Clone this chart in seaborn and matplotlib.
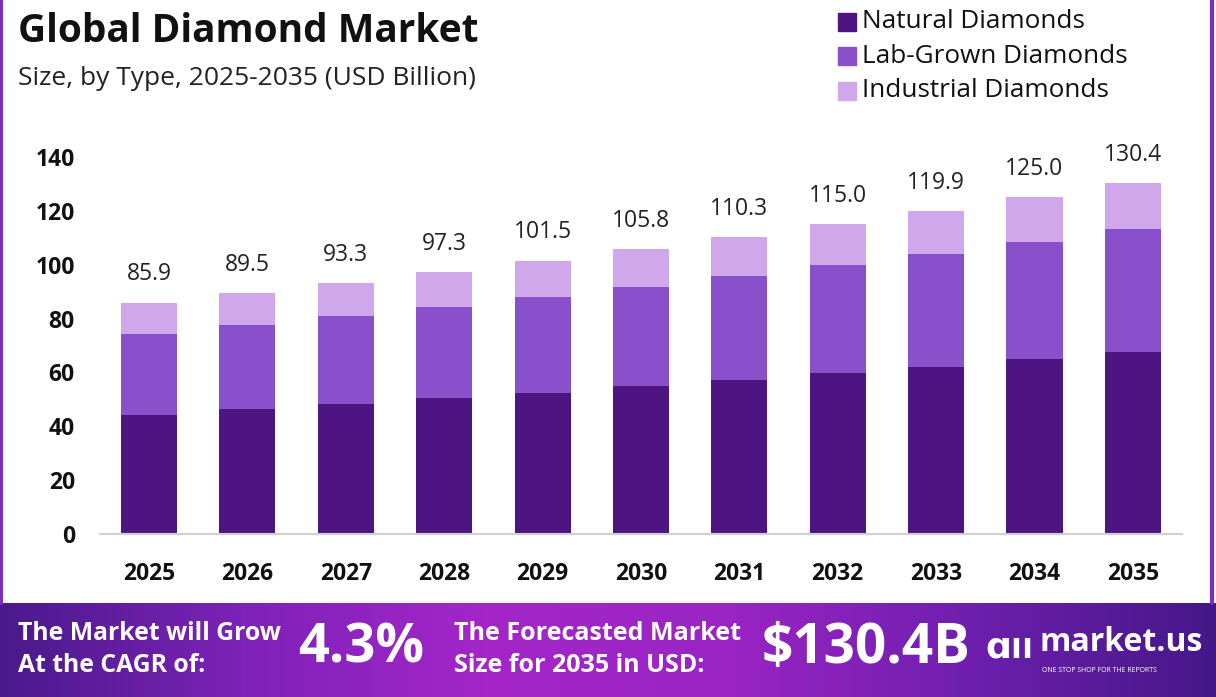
import numpy as np
import pandas as pd
import matplotlib.pyplot as plt
import seaborn as sns
from matplotlib.colors import LinearSegmentedColormap

# datos
years = ["2025", "2026", "2027", "2028", "2029", "2030", "2031", "2032", "2033", "2034", "2035"]
natural = [44.2, 46.4, 48.3, 50.5, 52.4, 55.0, 57.2, 59.8, 62.0, 65.0, 67.6]
lab_grown = [30.1, 31.2, 32.6, 33.8, 35.6, 36.7, 38.6, 40.1, 42.0, 43.4, 45.7]
industrial = [11.6, 11.9, 12.4, 13.0, 13.5, 14.1, 14.5, 15.1, 15.9, 16.6, 17.1]
totals = [85.9, 89.5, 93.3, 97.3, 101.5, 105.8, 110.3, 115.0, 119.9, 125.0, 130.4]
series_names = ["Natural Diamonds", "Lab-Grown Diamonds", "Industrial Diamonds"]

colores = ["#4E1582", "#8A4FCB", "#D1A7EB"]

df = pd.DataFrame({"year": years, "natural": natural, "lab": lab_grown, "ind": industrial})
df["nat_lab"] = df["natural"] + df["lab"]
df["total"] = df["nat_lab"] + df["ind"]

sns.set_theme(style="white")
plt.rcParams["font.family"] = ["Open Sans", "DejaVu Sans"]

fig = plt.figure(figsize=(12.16, 6.97), dpi=100)
ax = fig.add_axes([0.0821, 0.2339, 0.890, 0.5603])

# barras apiladas: total -> natural+lab -> natural
for col, c in [("total", colores[2]), ("nat_lab", colores[1]), ("natural", colores[0])]:
    sns.barplot(data=df, x="year", y=col, color=c, width=0.57, ax=ax,
                saturation=1, edgecolor="none", linewidth=0)

ax.set_ylim(0, 145)
ax.set_xlim(-0.5, len(years) - 0.5)
ax.set_yticks(range(0, 141, 20))
ax.set_xlabel("")
ax.set_ylabel("")
for s in ["top", "right", "left"]:
    ax.spines[s].set_visible(False)
ax.spines["bottom"].set_color("#d0d0d0")
ax.spines["bottom"].set_linewidth(1.5)
ax.tick_params(axis="both", length=0)
ax.tick_params(axis="x", pad=20)
ax.tick_params(axis="y", pad=18)
for lbl in ax.get_xticklabels() + ax.get_yticklabels():
    lbl.set_fontsize(16.5)
    lbl.set_fontweight("bold")
    lbl.set_color("#111111")

for i, t in enumerate(totals):
    ax.text(i, df["total"][i] + 6.0, f"{t:.1f}", ha="center", va="bottom",
            fontsize=16.5, color="#222222")

# titulos
fig.text(0.015, 0.955, "Global Diamond Market", fontsize=28, fontweight="bold",
         color="#111111", va="center")
fig.text(0.015, 0.888, "Size, by Type, 2025-2035 (USD Billion)", fontsize=19,
         color="#222222", va="center")

# leyenda manual
for k, (name, c) in enumerate(zip(series_names, colores)):
    yy = 0.969 - k * 0.0495
    fig.patches.append(plt.Rectangle((0.689, yy - 0.013), 0.0148, 0.026, color=c,
                                     transform=fig.transFigure, figure=fig))
    fig.text(0.709, yy, name, fontsize=18.8, color="#111111", va="center")

# bordes morados laterales
fig.add_artist(plt.Line2D([0.001, 0.001], [0.135, 1], color="#7B2FBF", lw=3,
                          transform=fig.transFigure))
fig.add_artist(plt.Line2D([0.997, 0.997], [0.135, 1], color="#7B2FBF", lw=3,
                          transform=fig.transFigure))

# banda inferior con degradado
bax = fig.add_axes([0, 0, 1, 0.135])
cmap = LinearSegmentedColormap.from_list("banda", ["#4A1A8C", "#7E22B8", "#A426C9",
                                                   "#9A24C4", "#6E1FAE", "#451888"])
grad = np.linspace(0, 1, 400).reshape(1, -1)
bax.imshow(grad, aspect="auto", cmap=cmap, extent=[0, 1, 0, 1])
bax.set_xlim(0, 1)
bax.set_ylim(0, 1)
bax.axis("off")

bax.text(0.015, 0.67, "The Market will Grow", fontsize=17.8, fontweight="bold",
         color="white", va="center")
bax.text(0.015, 0.34, "At the CAGR of:", fontsize=17.8, fontweight="bold",
         color="white", va="center")
bax.text(0.245, 0.52, "4.3%", fontsize=39, fontweight="bold", color="white", va="center")
bax.text(0.373, 0.67, "The Forecasted Market", fontsize=18, fontweight="bold",
         color="white", va="center")
bax.text(0.373, 0.34, "Size for 2035 in USD:", fontsize=18, fontweight="bold",
         color="white", va="center")
bax.text(0.626, 0.52, "$130.4B", fontsize=39.5, fontweight="bold", color="white", va="center")
bax.text(0.810, 0.52, "ɑıı", fontsize=26, fontweight="bold", color="white", va="center")
bax.text(0.855, 0.58, "market.us", fontsize=23, fontweight="bold", color="white", va="center")
bax.text(0.857, 0.28, "ONE STOP SHOP FOR THE REPORTS", fontsize=5, color="white", va="center")

fig.savefig("out.png", dpi=100)
